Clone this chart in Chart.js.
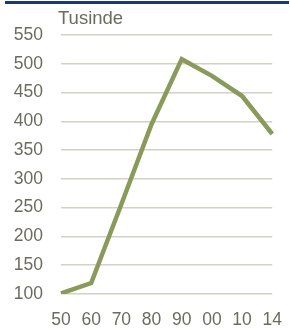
<!DOCTYPE html>
<html lang="da">
<head>
    <meta charset="UTF-8">
    <title>Tusinde</title>
    <style>
        body {
            margin: 0;
            padding: 0;
            background-color: #ffffff;
            font-family: "Liberation Sans", Arial, sans-serif;
        }
        .wrap {
            position: relative;
            width: 290px;
            height: 329px;
        }
        .topbar {
            position: absolute;
            left: 5px;
            top: 1px;
            width: 284px;
            height: 3px;
            background-color: #1d3770;
        }
        .unit {
            position: absolute;
            left: 58px;
            top: 7px;
            font-size: 18.5px;
            color: #6c6b5f;
        }
        canvas {
            position: absolute;
            left: 0;
            top: 0;
        }
    </style>
</head>
<body>
    <div class="wrap">
        <canvas id="chart" width="290" height="329"></canvas>
        <div class="topbar"></div>
        <div class="unit">Tusinde</div>
    </div>

    <script src="https://cdn.jsdelivr.net/npm/chart.js"></script>
    <script>
        // Decades (last label is 2014)
        const years = ['50', '60', '70', '80', '90', '00', '10', '14'];
        // Values in thousands
        const values = [101, 119, 256, 395, 508, 479, 444, 378];
        const yMin = 100;
        const yMax = 550;
        const yStep = 50;

        const tickFont = {
            family: '"Liberation Sans", Arial, sans-serif',
            size: 17.5
        };
        const textColor = '#6c6b5f';

        const ctx = document.getElementById('chart').getContext('2d');
        new Chart(ctx, {
            type: 'line',
            data: {
                labels: years,
                datasets: [{
                    data: values,
                    borderColor: '#8a9a5b',
                    borderWidth: 4.5,
                    pointRadius: 0,
                    tension: 0,
                    fill: false
                }]
            },
            options: {
                responsive: false,
                animation: false,
                layout: {
                    padding: { top: 35, right: 0, bottom: 0, left: 0 }
                },
                plugins: {
                    legend: { display: false },
                    tooltip: { enabled: false }
                },
                scales: {
                    x: {
                        offset: false,
                        grid: { display: false },
                        border: { display: false },
                        ticks: {
                            color: textColor,
                            font: tickFont,
                            padding: 8,
                            maxRotation: 0,
                            autoSkip: false
                        },
                        afterFit: function(scale) { scale.height = 35; }
                    },
                    y: {
                        min: yMin,
                        max: yMax,
                        grid: {
                            color: '#d2d2c6',
                            lineWidth: 1.5,
                            drawTicks: false
                        },
                        border: { display: false },
                        ticks: {
                            stepSize: yStep,
                            color: textColor,
                            font: tickFont,
                            padding: 18
                        },
                        afterFit: function(scale) { scale.width = 61; }
                    }
                }
            }
        });
    </script>
</body>
</html>
